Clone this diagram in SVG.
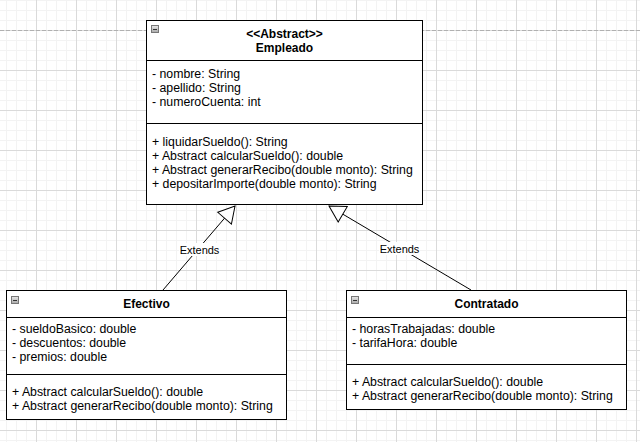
<svg xmlns="http://www.w3.org/2000/svg" width="640" height="442" viewBox="0 0 640 442">
<defs>
<pattern id="grid" patternUnits="userSpaceOnUse" x="36" y="30" width="40" height="40">
<path d="M10.5 0V40M20.5 0V40M30.5 0V40M0 10.5H40M0 20.5H40M0 30.5H40" stroke="#f3f3f3" stroke-width="1" fill="none"/>
<path d="M0.5 0V40M0 0.5H40" stroke="#dadada" stroke-width="1" fill="none"/>
</pattern>
<linearGradient id="btn" x1="0" y1="0" x2="0" y2="1">
<stop offset="0" stop-color="#e8e8e8"/>
<stop offset="1" stop-color="#a8a8a8"/>
</linearGradient>
<marker id="tri" markerUnits="userSpaceOnUse" viewBox="-1 -1 18 20" refX="16" refY="9" markerWidth="18" markerHeight="20" orient="auto">
<path d="M0 0L16 9L0 18Z" fill="#fff" stroke="#000" stroke-width="1"/>
</marker>
</defs>
<style>
.box{fill:#fff;stroke:#000;stroke-width:1}
.sep{stroke:#000;stroke-width:1}
text{font-family:"Liberation Sans",Arial,sans-serif;font-size:12.3px;fill:#000}
.t{font-weight:bold;text-anchor:middle;font-size:12px}
.lbl{font-size:11px;text-anchor:middle}
.btn{fill:url(#btn);stroke:#777;stroke-width:1}
.dash{stroke:#333;stroke-width:1}
.conn{stroke:#000;stroke-width:1;fill:none}
</style>
<rect width="640" height="442" fill="#fff"/>
<rect width="640" height="442" fill="url(#grid)"/>
<line x1="0" y1="30.5" x2="640" y2="30.5" stroke="#b0b0b0" stroke-dasharray="4 2"/>

<g id="connectors">
<line class="conn" x1="163" y1="290" x2="235" y2="206" marker-end="url(#tri)"/>
<line class="conn" x1="471" y1="290" x2="329" y2="206" marker-end="url(#tri)"/>
<rect x="179" y="243" width="41" height="13" fill="#fff"/>
<text class="lbl" x="199.5" y="253.5">Extends</text>
<rect x="379" y="242" width="41" height="13" fill="#fff"/>
<text class="lbl" x="399.5" y="252.5">Extends</text>
</g>

<g id="empleado">
<rect class="box" x="146.5" y="20.5" width="276" height="184"/>
<line class="sep" x1="146.5" y1="60.5" x2="422.5" y2="60.5"/>
<line class="sep" x1="146.5" y1="123.5" x2="422.5" y2="123.5"/>
<rect class="btn" x="151.5" y="25.5" width="7" height="7"/>
<line class="dash" x1="153" y1="29.5" x2="157" y2="29.5"/>
<text class="t" x="284.5" y="38">&lt;&lt;Abstract&gt;&gt;</text>
<text class="t" x="284.5" y="52">Empleado</text>
<text x="152" y="78">- nombre: String</text>
<text x="152" y="92">- apellido: String</text>
<text x="152" y="106">- numeroCuenta: int</text>
<text x="152" y="146">+ liquidarSueldo(): String</text>
<text x="152" y="160">+ Abstract calcularSueldo(): double</text>
<text x="152" y="174">+ Abstract generarRecibo(double monto): String</text>
<text x="152" y="188">+ depositarImporte(double monto): String</text>
</g>

<g id="efectivo">
<rect class="box" x="6.5" y="290.5" width="280" height="129"/>
<line class="sep" x1="6.5" y1="317.5" x2="286.5" y2="317.5"/>
<line class="sep" x1="6.5" y1="374.5" x2="286.5" y2="374.5"/>
<rect class="btn" x="11.5" y="296.5" width="7" height="7"/>
<line class="dash" x1="13" y1="300.5" x2="17" y2="300.5"/>
<text class="t" x="146.5" y="308">Efectivo</text>
<text x="12" y="333">- sueldoBasico: double</text>
<text x="12" y="347">- descuentos: double</text>
<text x="12" y="361">- premios: double</text>
<text x="12" y="396">+ Abstract calcularSueldo(): double</text>
<text x="12" y="410">+ Abstract generarRecibo(double monto): String</text>
</g>

<g id="contratado">
<rect class="box" x="346.5" y="290.5" width="280" height="119"/>
<line class="sep" x1="346.5" y1="317.5" x2="626.5" y2="317.5"/>
<line class="sep" x1="346.5" y1="364.5" x2="626.5" y2="364.5"/>
<rect class="btn" x="351.5" y="296.5" width="7" height="7"/>
<line class="dash" x1="353" y1="300.5" x2="357" y2="300.5"/>
<text class="t" x="486.5" y="308">Contratado</text>
<text x="352" y="333">- horasTrabajadas: double</text>
<text x="352" y="347">- tarifaHora: double</text>
<text x="352" y="386">+ Abstract calcularSueldo(): double</text>
<text x="352" y="400">+ Abstract generarRecibo(double monto): String</text>
</g>
</svg>
